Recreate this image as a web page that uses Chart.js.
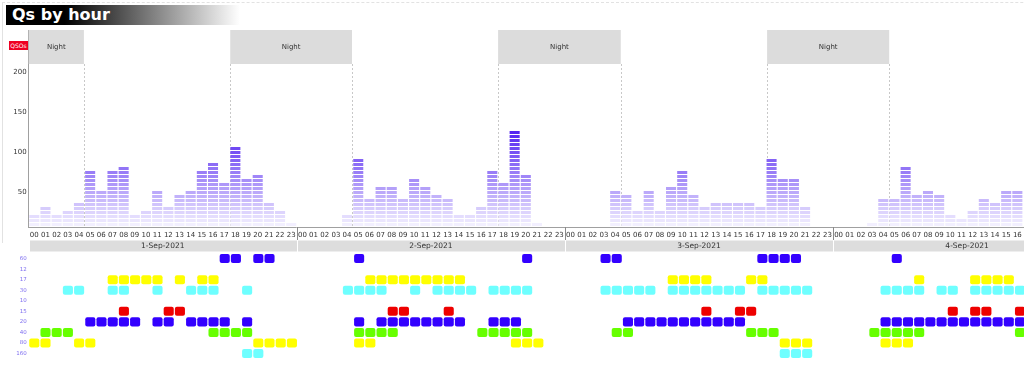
<!DOCTYPE html>
<html>
<head>
<meta charset="utf-8">
<script src="https://cdn.jsdelivr.net/npm/chart.js@4/dist/chart.umd.min.js"></script>
<style>
  html, body { margin: 0; padding: 0; overflow: hidden; background: #fff; }
  #wrap { position: relative; width: 1104px; height: 377px; }
  #frame { position: absolute; left: 2px; top: 2px; width: 1200px; height: 240px;
           border-left: 1px solid #e2e2e2; border-top: 1px dashed #e2e2e2; }
  #title { position: absolute; left: 6px; top: 5px; width: 234px; height: 20px;
           background: linear-gradient(90deg, #000 0%, #000 25%, #fff 100%);
           color: #fff; font: bold 16px "DejaVu Sans", sans-serif; line-height: 20px;
           padding-left: 6px; box-sizing: border-box; }
  #qsos { position: absolute; left: 9px; top: 41px; width: 19px; height: 9px;
          background: #ee0022; color: #fff; font: 6px "DejaVu Sans", sans-serif;
          line-height: 9px; text-align: center; }
  canvas { position: absolute; left: 0; }
</style>
</head>
<body>
<div id="wrap">
  <div id="frame"></div>
  <canvas id="qsChart" width="1104" height="252" style="top:0"></canvas>
  <canvas id="bandChart" width="1104" height="129" style="top:248px"></canvas>
  <div id="title">Qs by hour</div>
  <div id="qsos">QSOs</div>
</div>
<script>
// categories
const hourLabels = ['00','01','02','03','04','05','06','07','08','09','10','11',
                    '12','13','14','15','16','17','18','19','20','21','22','23'];
const dayLabels = ['1-Sep-2021', '2-Sep-2021', '3-Sep-2021', '4-Sep-2021'];

// QSOs per hour, one array per day (day 4 is cut off on the right)
const day1Qs = [20, 30, 20, 25, 35, 75, 50, 75, 80, 20, 25, 50, 30, 45, 50, 75, 85, 60, 105, 65, 70, 35, 25, 10];
const day2Qs = [null, null, null, null, 20, 90, 40, 55, 55, 40, 65, 55, 45, 40, 20, 20, 30, 75, 60, 125, 70, 10, null, null];
const day3Qs = [null, null, null, null, 50, 45, 25, 50, 25, 55, 75, 45, 30, 35, 35, 35, 35, 30, 90, 65, 65, 30, null, null];
const day4Qs = [null, null, null, 10, 40, 40, 80, 45, 50, 45, 20, 15, 25, 40, 35, 50, 50, null, null, null, null, null, null, null];

// sunrise / sunset (decimal hour of each day)
const sunrise = [4.94, 4.94, 5.0, 5.03];
const sunset = [18.04, 18.02, 18.1, 18.1];

// y ticks
const qsTicks = [50, 100, 150, 200];

// bands active per hour, per day
const bandLabels = ['60', '12', '17', '30', '10', '15', '20', '40', '80', '160'];
const bandColours = ['#3300ff', '#999999', '#ffff00', '#6effff', '#999999', '#ee0000', '#3300ff', '#66ff00', '#ffff00', '#6effff'];
const band60 = [[17, 18, 20, 21], [5, 20], [3, 4, 17, 18, 19, 20], [5]];
const band12 = [[], [], [], []];
const band17 = [[7, 8, 9, 10, 11, 13, 15, 16], [6, 7, 8, 9, 10, 11, 12, 13, 14], [9, 10, 11, 12, 16, 17], [7, 12, 13, 14, 15]];
const band30 = [[3, 4, 7, 8, 11, 14, 15, 16, 19], [4, 5, 6, 7, 10, 12, 13, 14, 15, 17, 18, 19, 20],
                [3, 4, 5, 6, 7, 9, 10, 11, 12, 13, 14, 15, 17, 18, 19, 20, 21], [4, 5, 6, 7, 9, 10, 12, 13, 14, 15, 16]];
const band10 = [[], [], [], []];
const band15 = [[8, 12, 13], [8, 9, 13], [12, 15, 16], [10, 12, 13, 16]];
const band20 = [[5, 6, 7, 8, 9, 11, 12, 14, 15, 16, 17, 19], [5, 7, 8, 9, 10, 11, 12, 13, 14, 17, 18, 19],
                [5, 6, 7, 8, 9, 10, 11, 12, 13, 14, 15], [4, 5, 6, 7, 8, 9, 10, 11, 12, 13, 14, 15, 16]];
const band40 = [[1, 2, 3, 16, 17, 18, 19], [5, 6, 7, 8, 16, 17, 18, 19, 20], [4, 5, 16, 17, 18], [3, 4, 5, 6, 7, 16]];
const band80 = [[0, 1, 4, 5, 20, 21, 22, 23], [5, 6, 19, 20, 21], [19, 20, 21], [4, 5, 6]];
const band160 = [[19, 20], [], [19, 20, 21], []];

// build what the library needs
const allLabels = [];
dayLabels.forEach(() => hourLabels.forEach(h => allLabels.push(h)));
const allQs = [].concat(day1Qs, day2Qs, day3Qs, day4Qs);

const nights = [[0, sunrise[0]]];
for (let d = 0; d < 4; d++) {
    nights.push([d * 24 + sunset[d], d < 3 ? (d + 1) * 24 + sunrise[d + 1] : 96]);
}

const FONT = '"DejaVu Sans", sans-serif';
const segStep = 5;

function levelColour(v) {
    const t = Math.min(1, Math.max(0, (v - 5) / 125));
    const r = Math.round(245 - 170 * t), g = Math.round(243 - 218 * t), b = Math.round(255 - 15 * t);
    return 'rgb(' + r + ',' + g + ',' + b + ')';
}

// striped fill: one colour per 5-QSO block, white line between blocks
function segmentFill(context) {
    const chart = context.chart;
    if (!chart.chartArea) return null;
    if (chart._segFill) return chart._segFill;
    const y = chart.scales.y;
    const bottom = y.getPixelForValue(y.min), top = y.getPixelForValue(y.max);
    const g = chart.ctx.createLinearGradient(0, bottom, 0, top);
    const f = p => Math.min(1, Math.max(0, (bottom - p) / (bottom - top)));
    for (let v = y.min; v < y.max; v += segStep) {
        const pb = y.getPixelForValue(v), pt = y.getPixelForValue(v + segStep);
        const c = levelColour(v + segStep / 2);
        g.addColorStop(f(pb), '#ffffff');
        g.addColorStop(f(pb - 1), '#ffffff');
        g.addColorStop(f(pb - 1), c);
        g.addColorStop(f(pt), c);
    }
    chart._segFill = g;
    return g;
}

const nightPlugin = {
    id: 'night',
    beforeDatasetsDraw(chart) {
        const {ctx, chartArea, scales: {x}} = chart;
        ctx.save();
        ctx.strokeStyle = '#c8c8c8';
        ctx.lineWidth = 1;
        ctx.setLineDash([2, 2]);
        nights.forEach(n => {
            n.forEach(h => {
                const px = Math.round(x.getPixelForValue(h - 0.5)) + 0.5;
                if (px <= chartArea.left + 1 || px >= chartArea.right) return;
                ctx.beginPath();
                ctx.moveTo(px, chartArea.top + 34);
                ctx.lineTo(px, chartArea.bottom);
                ctx.stroke();
            });
        });
        ctx.restore();
    },
    afterDraw(chart) {
        const {ctx, chartArea, scales: {x}} = chart;
        ctx.save();
        ctx.font = '7px ' + FONT;
        ctx.textAlign = 'center';
        ctx.textBaseline = 'middle';
        nights.forEach(n => {
            const x1 = Math.max(chartArea.left, x.getPixelForValue(n[0] - 0.5));
            const x2 = Math.min(chartArea.right, x.getPixelForValue(n[1] - 0.5));
            ctx.fillStyle = '#dcdcdc';
            ctx.fillRect(x1, chartArea.top, x2 - x1, 34);
            ctx.fillStyle = '#333';
            ctx.fillText('Night', (x1 + x2) / 2, chartArea.top + 17.5);
        });
        // day boundaries on the hour axis
        ctx.strokeStyle = '#8a8a8a';
        ctx.lineWidth = 1;
        for (let d = 1; d < 4; d++) {
            const px = Math.round(x.getPixelForValue(d * 24 - 0.5)) + 0.5;
            ctx.beginPath();
            ctx.moveTo(px, chartArea.bottom);
            ctx.lineTo(px, chart.scales.xDay.top);
            ctx.stroke();
        }
        ctx.restore();
    }
};

const dayBoxPlugin = {
    id: 'dayBox',
    beforeDraw(chart) {
        const {ctx, scales: {x, xDay}} = chart;
        ctx.save();
        ctx.fillStyle = '#dddddd';
        for (let d = 0; d < dayLabels.length; d++) {
            const l = x.getPixelForValue(d * 24 - 0.5), r = x.getPixelForValue(d * 24 + 23.5);
            ctx.fillRect(Math.round(l) + 1, xDay.top + 0.5, Math.round(r) - Math.round(l) - 1, 11);
        }
        ctx.restore();
    }
};

const qsChart = new Chart(document.getElementById('qsChart'), {
    type: 'bar',
    data: {
        labels: allLabels,
        datasets: [{
            label: 'QSOs',
            data: allQs,
            backgroundColor: segmentFill,
            borderWidth: 0,
            barPercentage: 0.9,
            categoryPercentage: 1
        }]
    },
    options: {
        responsive: false,
        animation: false,
        layout: {padding: {top: 30, left: 0, right: 0, bottom: 0}},
        plugins: {legend: {display: false}, tooltip: {enabled: false}},
        scales: {
            x: {
                type: 'category', position: 'bottom', weight: 0, offset: true,
                grid: {display: false, drawTicks: false},
                border: {display: true, color: '#a0a0a0', dash: [1, 1]},
                ticks: {autoSkip: false, maxRotation: 0, minRotation: 0, padding: 4,
                        color: '#333', font: {family: FONT, size: 7}},
                afterFit: s => { s.height = 13; }
            },
            xDay: {
                type: 'category', labels: dayLabels, position: 'bottom', weight: 1, offset: true,
                grid: {display: false, drawTicks: false},
                border: {display: false},
                ticks: {autoSkip: false, maxRotation: 0, padding: 2, color: '#333',
                        font: {family: FONT, size: 7.5}},
                afterFit: s => { s.height = 12; }
            },
            y: {
                min: 5, max: 250,
                grid: {display: false, drawTicks: false},
                border: {display: true, color: '#a0a0a0', dash: [1, 1]},
                afterBuildTicks: s => { s.ticks = qsTicks.map(v => ({value: v})); },
                ticks: {padding: 2, labelOffset: 1.5, color: '#333', font: {family: FONT, size: 7}},
                afterFit: s => { s.width = 28.7; }
            }
        }
    },
    plugins: [dayBoxPlugin, nightPlugin]
});

// band activity matrix
const bandRows = [band60, band12, band17, band30, band10, band15, band20, band40, band80, band160];
const bandDatasets = bandRows.map((days, row) => ({
    label: bandLabels[row],
    data: allLabels.map((_, i) => days[Math.floor(i / 24)].includes(i % 24) ? [row - 0.43, row + 0.43] : null),
    backgroundColor: bandColours[row],
    borderWidth: 0,
    borderRadius: 2,
    borderSkipped: false,
    grouped: false,
    barPercentage: 0.9,
    categoryPercentage: 1
}));

const bandChart = new Chart(document.getElementById('bandChart'), {
    type: 'bar',
    data: {labels: allLabels, datasets: bandDatasets},
    options: {
        responsive: false,
        animation: false,
        layout: {padding: {top: 2.8, bottom: 18.2, left: 0, right: 0}},
        plugins: {legend: {display: false}, tooltip: {enabled: false}},
        scales: {
            x: {type: 'category', display: false, offset: true},
            y: {
                min: -0.5, max: 9.5, reverse: true,
                grid: {display: false, drawTicks: false},
                border: {display: false},
                afterBuildTicks: s => { s.ticks = bandLabels.map((_, i) => ({value: i})); },
                ticks: {padding: 2, color: '#7f6ff0', font: {family: FONT, size: 5.5},
                        callback: v => bandLabels[v]},
                afterFit: s => { s.width = 28.7; }
            }
        }
    }
});
</script>
</body>
</html>
